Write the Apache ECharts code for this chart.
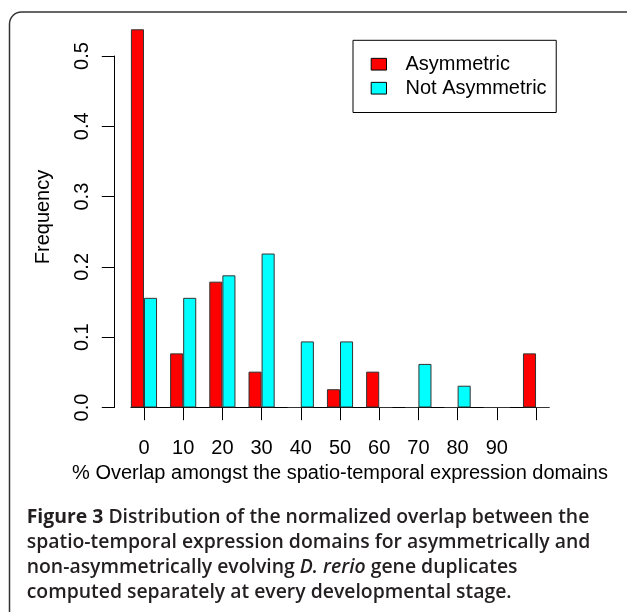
<!DOCTYPE html>
<html>
<head>
<meta charset="utf-8">
<script src="https://cdn.jsdelivr.net/npm/echarts@6/dist/echarts.min.js"></script>
<style>
html,body{margin:0;padding:0;background:#fff;}
#c{width:627px;height:612px;}
</style>
</head>
<body>
<div id="c"></div>
<script>
// Data
const overlapBins = [0, 10, 20, 30, 40, 50, 60, 70, 80, 90, 100];
const tickLabels = [0, 10, 20, 30, 40, 50, 60, 70, 80, 90];
const asymmetric = [0.538, 0.077, 0.179, 0.051, 0, 0.026, 0.051, 0, 0, 0, 0.077];
const notAsymmetric = [0.156, 0.156, 0.188, 0.219, 0.094, 0.094, 0, 0.062, 0.031, 0, 0];
const seriesNames = ['Asymmetric', 'Not Asymmetric'];
const xTitle = '% Overlap amongst the spatio-temporal expression domains';
const yTitle = 'Frequency';

const RF = 'Liberation Sans, Arial, Helvetica, sans-serif';
const CF = 'Open Sans, Noto Sans, sans-serif';
const capColor = '#231f20';
const capSize = 19.4;

const chart = echarts.init(document.getElementById('c'), null, {renderer: 'canvas'});

function capStyle(weight, style) {
  return {fontFamily: CF, fontSize: capSize, fontWeight: weight, fontStyle: style || 'normal', fill: capColor};
}

const captionLines = [
  '{b|Figure 3} {n|Distribution of the normalized overlap between the}',
  '{n|spatio-temporal expression domains for asymmetrically and}',
  '{n|non-asymmetrically evolving }{i|D. rerio}{n| gene duplicates}',
  '{n|computed separately at every developmental stage.}'
];
const captionY = [517.0, 542.0, 567.0, 592.0];

const graphics = [
  {
    type: 'rect', silent: true,
    shape: {x: 9.5, y: 12, width: 800, height: 800, r: 12},
    style: {fill: 'none', stroke: '#333', lineWidth: 1.5}
  }
].concat(captionLines.map((t, i) => ({
  type: 'text', silent: true,
  x: 26.7, y: captionY[i],
  style: {
    text: t,
    verticalAlign: 'middle',
    align: 'left',
    fontFamily: CF, fontSize: capSize, fill: capColor,
    rich: {
      b: capStyle(700),
      n: capStyle(600),
      i: capStyle(600, 'italic')
    }
  }
})));

const option = {
  animation: false,
  backgroundColor: '#fff',
  grid: {left: 130.9, width: 418.2, top: 56, height: 351.5, containLabel: false},
  legend: {
    orient: 'vertical',
    left: 353, top: 40.3,
    padding: [13.9, 9.6, 14.3, 17.7],
    itemWidth: 15.3, itemHeight: 11.7, itemGap: 4,
    borderColor: '#000', borderWidth: 1, borderRadius: 0,
    icon: 'rect',
    itemStyle: {borderColor: '#000', borderWidth: 1},
    textStyle: {fontSize: 20, fontFamily: RF, color: '#000', lineHeight: 20, padding: [0, 0, 0, 14]},
    data: seriesNames
  },
  xAxis: {
    type: 'value',
    min: -10 / 3, max: 310 / 3,
    axisLine: {show: true, onZero: false, lineStyle: {color: '#000', width: 1}},
    axisTick: {show: true, length: 12.7, customValues: overlapBins, lineStyle: {color: '#000', width: 1}},
    axisLabel: {customValues: tickLabels, margin: 30.5, fontSize: 20, fontFamily: RF, color: '#000'},
    splitLine: {show: false},
    name: xTitle, nameLocation: 'middle', nameGap: 55.5,
    nameTextStyle: {fontSize: 20, fontFamily: RF, color: '#000'}
  },
  yAxis: {
    type: 'value',
    min: 0, max: 0.5, interval: 0.1,
    offset: 16.4,
    axisLine: {show: true, onZero: false, lineStyle: {color: '#000', width: 1}},
    axisTick: {show: true, length: 12.7, lineStyle: {color: '#000', width: 1}},
    axisLabel: {rotate: 90, margin: 22.5, fontSize: 20, fontFamily: RF, color: '#000',
      formatter: v => v.toFixed(1)},
    splitLine: {show: false},
    name: yTitle, nameLocation: 'middle', nameRotate: 90, nameGap: 61,
    nameTextStyle: {fontSize: 20, fontFamily: RF, color: '#000', padding: [0, 0, 0, 29.5]}
  },
  series: [
    {
      name: seriesNames[0], type: 'bar',
      data: overlapBins.map((b, i) => [b, asymmetric[i]]),
      barWidth: 13.07, barGap: '0%', clip: false,
      itemStyle: {color: '#ff0000', borderColor: '#333', borderWidth: 1}
    },
    {
      name: seriesNames[1], type: 'bar',
      data: overlapBins.map((b, i) => [b, notAsymmetric[i]]),
      barWidth: 13.07, barGap: '0%', clip: false,
      itemStyle: {color: '#00ffff', borderColor: '#333', borderWidth: 1}
    }
  ],
  graphic: graphics
};
chart.setOption(option);
</script>
</body>
</html>
